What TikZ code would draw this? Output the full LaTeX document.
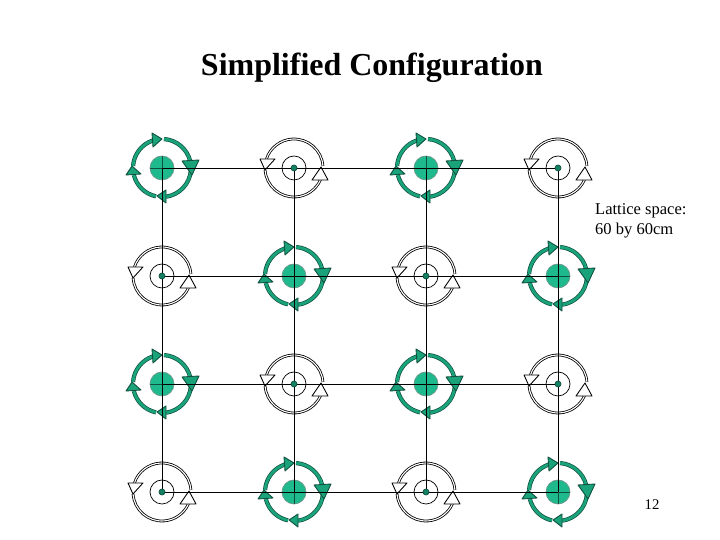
\documentclass[tikz,border=0pt]{standalone}
\usepackage{fontspec}
\setmainfont{Liberation Serif}
\definecolor{rotorgreen}{RGB}{30,185,140}
\definecolor{rotordark}{RGB}{15,80,62}
\tikzset{
 rotorband/.style={draw=rotordark,line width=.7*.02cm,double=rotorgreen!88!black,double distance=2.8*.02cm},
 rotortip/.style={draw=rotordark,fill=rotorgreen!88!black,line width=.5pt,line join=round},
 whiteband/.style={draw=black,line width=.8*.02cm,double=white,double distance=1.1*.02cm},
 whitetip/.style={draw=black,fill=white,line width=.5pt,line join=round},
 sitedot/.style={circle,draw=rotordark,fill=rotorgreen!70!black,inner sep=0pt,minimum size=6*.02cm},
 greenrotor/.pic={
  \fill[rotorgreen] (0,0) circle (12);
  \draw[rotordark!60,line width=.4pt] (0,0) circle (12);
  \draw[rotordark,line width=.4pt] (-12,0)--(12,0) (0,-12)--(0,12);
  \foreach \aa/\bb in {86/14,-4/-82,-102/-166,176/108}{
   \draw[rotorband] (\aa:29) arc[start angle=\aa,end angle=\bb,radius=29];}
  \draw[rotortip] (-10,35)--(0,29)--(-9,21)--cycle;
  \draw[rotortip] (20,7)--(37,8)--(30,-7)--cycle;
  \draw[rotortip] (4,-22)--(4,-35)--(-5,-28)--cycle;
  \draw[rotortip] (-36,-7)--(-21,-6)--(-30,2)--cycle;
 },
 whiterotor/.pic={
  \draw[black,line width=.4pt] (0,0) circle (12);
  \draw[whiteband] (4:29) arc[start angle=4,end angle=162,radius=29];
  \draw[whiteband] (184:29) arc[start angle=184,end angle=336,radius=29];
  \draw[whitetip] (-34,9)--(-19,9)--(-29,-2)--cycle;
  \draw[whitetip] (18,-12)--(34,-12)--(27,1)--cycle;
 }
}
\begin{document}
\begin{tikzpicture}[x=.02cm,y=.02cm]
\useasboundingbox (0,0) rectangle (720,540);
% sites, top row is row 1
\foreach \cc [evaluate=\cc as \xx using {162+132*(\cc-1)}] in {1,2,3,4}{
 \foreach \rr [evaluate=\rr as \yy using {372-108*(\rr-1)}] in {1,2,3,4}{
  \coordinate (s\cc\rr) at (\xx,\yy);
  \pgfmathparse{int(mod(\cc+\rr,2))}
  \ifnum\pgfmathresult=0
   \pic at (s\cc\rr) {greenrotor};
  \else
   \pic at (s\cc\rr) {whiterotor};
  \fi
 }}
% lattice
\foreach \nn in {1,2,3,4}{
 \draw[black,line width=.5pt] (s1\nn)--(s4\nn);
 \draw[black,line width=.5pt] (s\nn1)--(s\nn4);}
\foreach \cc/\rr in {2/1,4/1,1/2,3/2,2/3,4/3,1/4,3/4}{
 \node[sitedot] (dot\cc\rr) at (s\cc\rr) {};}
\node[font=\fontsize{18.2}{22}\selectfont\bfseries] (title) at (372,472) {Simplified Configuration};
\node[font=\fontsize{9.4}{11.4}\selectfont,align=left,anchor=west] (latticelabel) at (589,319) {Lattice space:\\60 by 60cm};
\node[font=\fontsize{8.4}{10}\selectfont] (pagenum) at (652,35) {12};
\end{tikzpicture}
\end{document}
